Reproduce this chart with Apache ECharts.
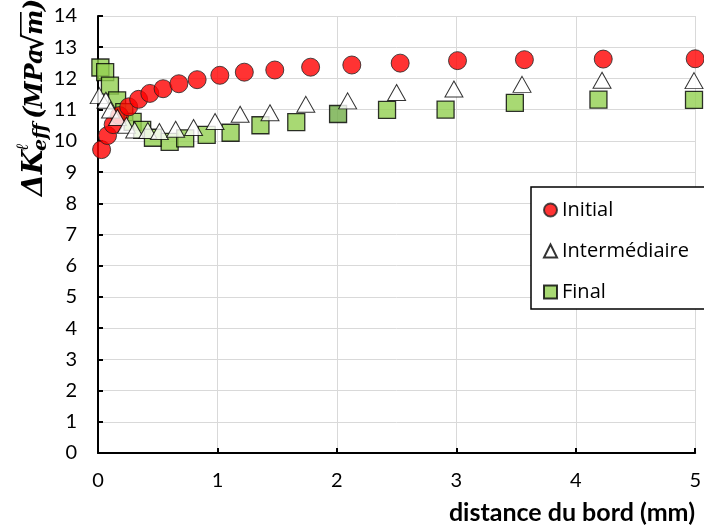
<!DOCTYPE html>
<html><head><meta charset="utf-8">
<script src="https://cdn.jsdelivr.net/npm/echarts@6/dist/echarts.min.js"></script>
<style>html,body{margin:0;padding:0;background:#fff}#c{width:704px;height:528px}</style>
</head><body><div id="c"></div>
<script>
const seriesNames = ['Initial', 'Intermédiaire', 'Final'];
const xTicks = [0, 1, 2, 3, 4, 5];
const yTicks = [0,1,2,3,4,5,6,7,8,9,10,11,12,13,14];
const xTitle = 'distance du bord (mm)';

const initialX = [0.03,0.08,0.127,0.18,0.257,0.34,0.434,0.545,0.677,0.83,1.02,1.225,1.48,1.78,2.125,2.53,3.01,3.57,4.23,5.0];
const initialY = [9.72,10.17,10.52,10.81,11.09,11.33,11.52,11.67,11.83,11.96,12.1,12.2,12.27,12.36,12.43,12.49,12.57,12.6,12.62,12.63];

const interX = [0.01,0.066,0.105,0.163,0.238,0.307,0.417,0.514,0.65,0.80,0.98,1.19,1.44,1.74,2.09,2.50,2.98,3.55,4.22,4.99];
const interY = [11.45,11.3,10.99,10.75,10.5,10.35,10.33,10.3,10.37,10.43,10.62,10.85,10.9,11.17,11.28,11.55,11.66,11.81,11.94,11.93];

const finalX = [0.02,0.06,0.10,0.16,0.22,0.29,0.37,0.46,0.60,0.73,0.91,1.11,1.36,1.66,2.01,2.42,2.91,3.49,4.19,4.99];
const finalY = [12.35,12.2,11.77,11.3,10.92,10.61,10.35,10.1,9.97,10.08,10.19,10.26,10.5,10.6,10.86,10.99,11.0,11.22,11.32,11.31];
const finalHighlight = 14;

const pairs = (xs, ys) => xs.map((x, i) => [x, ys[i]]);

const chart = echarts.init(document.getElementById('c'), null, {renderer: 'canvas'});
const FONT = 'Lato';
const SERIF = '"DejaVu Serif"';

const finalData = pairs(finalX, finalY).map((p, i) => i === finalHighlight
  ? {value: p, itemStyle: {color: '#70AD47'}} : p);

// text whose baseline sits at local y (approx, via middle alignment)
function t(text, x, base, size, style) {
  return {type: 'text', x: x, y: base - 0.3 * size,
    style: {text: text, font: style + ' ' + size + 'px ' + SERIF, fill: '#000', verticalAlign: 'middle', align: 'left'}};
}

chart.setOption({
  animation: false,
  backgroundColor: '#fff',
  grid: {left: 98, right: 3, top: 16, bottom: 75},
  xAxis: {
    type: 'value', min: xTicks[0], max: xTicks[xTicks.length-1], interval: 1,
    axisLine: {onZero: false, lineStyle: {color: '#000', width: 2}},
    axisTick: {show: true, inside: true, length: 5, lineStyle: {color: '#000', width: 2}},
    axisLabel: {color: '#000', fontFamily: FONT, fontSize: 20, margin: 18},
    splitLine: {show: true, lineStyle: {color: '#d9d9d9', width: 1}}
  },
  yAxis: {
    type: 'value', min: yTicks[0], max: yTicks[yTicks.length-1], interval: 1,
    axisLine: {show: true, onZero: false, lineStyle: {color: '#000', width: 2}},
    axisTick: {show: true, inside: true, length: 5, lineStyle: {color: '#000', width: 2}},
    axisLabel: {color: '#000', fontFamily: FONT, fontSize: 20, margin: 21},
    splitLine: {show: true, lineStyle: {color: '#d9d9d9', width: 1}}
  },
  legend: {
    orient: 'vertical', left: 531, top: 187,
    padding: [13, 24, 7, 12], itemGap: 21,
    itemWidth: 13, itemHeight: 13,
    backgroundColor: '#fff', borderColor: '#000', borderWidth: 1.5,
    textStyle: {color: '#000', fontFamily: 'Open Sans', fontSize: 20, lineHeight: 20},
    data: seriesNames
  },
  graphic: [
    {
      type: 'group', x: 43, y: 196, rotation: Math.PI / 2,
      children: [
        t('ΔK', 0, 0, 28, 'italic bold'),
        t('ℓ', 45, -14, 17, 'italic'),
        t('eff', 45, 4, 19, 'italic bold'),
        t('(', 77, 0, 26, 'italic bold'),
        t('MPa', 88, 0, 24, 'italic bold'),
        t('√', 144, 1, 28, 'bold'),
        t('m', 161, 0, 24, 'italic bold'),
        {type: 'rect', shape: {x: 160, y: -23, width: 24, height: 1.6}, style: {fill: '#000'}},
        t(')', 185, 0, 26, 'italic bold')
      ]
    },
    {
      type: 'text', x: 695, y: 500,
      style: {text: xTitle, font: 'bold 25px Lato', fill: '#000', align: 'right', verticalAlign: 'top'}
    }
  ],
  series: [
    {
      name: seriesNames[2], type: 'scatter', z: 2,
      symbol: 'rect', symbolSize: 17,
      itemStyle: {color: '#92D050', borderColor: '#000', borderWidth: 1.3},
      data: finalData
    },
    {
      name: seriesNames[0], type: 'scatter', z: 3,
      symbol: 'circle', symbolSize: 18,
      itemStyle: {color: '#FF0000', borderColor: '#222', borderWidth: 1},
      data: pairs(initialX, initialY)
    },
    {
      name: seriesNames[1], type: 'scatter', z: 4,
      symbol: 'triangle', symbolSize: [18, 16],
      itemStyle: {color: '#fff', borderColor: '#000', borderWidth: 1},
      data: pairs(interX, interY)
    }
  ]
});
</script></body></html>
